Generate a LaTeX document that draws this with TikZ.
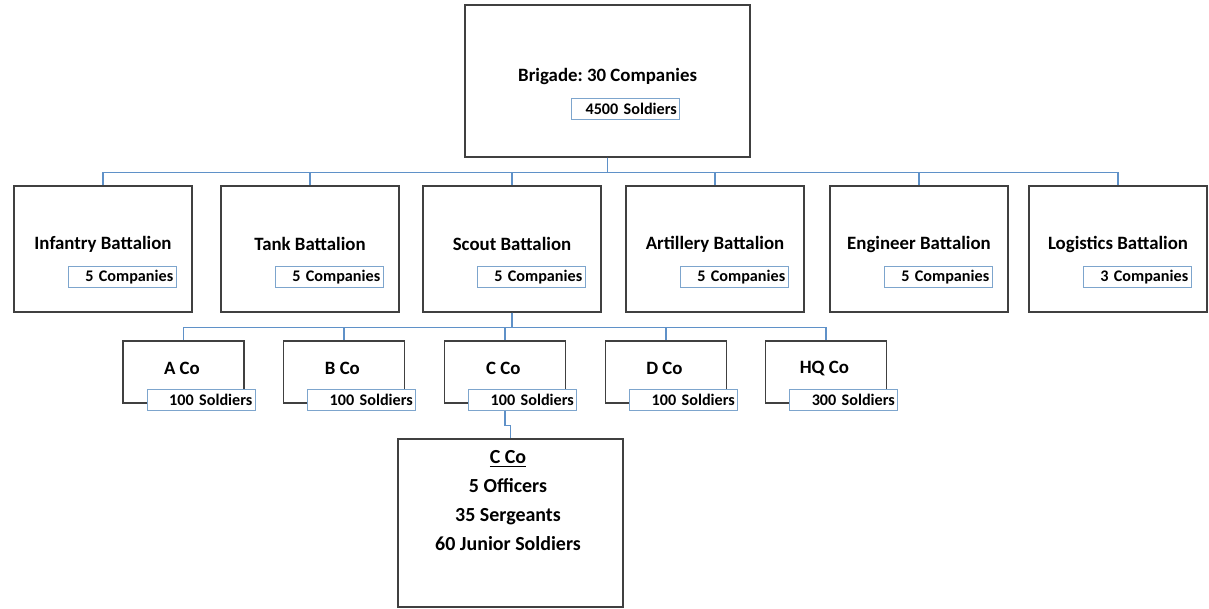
\documentclass[tikz,border=0pt]{standalone}
\usepackage{fontspec}
\setmainfont{Carlito}
\frenchspacing
\usetikzlibrary{positioning,calc}
\definecolor{boxline}{RGB}{64,64,64}
\definecolor{linkblue}{RGB}{95,145,200}
\definecolor{subline}{RGB}{125,165,205}
\tikzset{
  unitbox/.style={draw=boxline, line width=.9pt, fill=white, inner sep=0pt},
  brigbox/.style={unitbox, minimum width=7.125cm, minimum height=3.8cm},
  batbox/.style={unitbox, minimum width=4.45cm, minimum height=3.15cm},
  cobox/.style={unitbox, minimum width=3.025cm, minimum height=1.55cm},
  detbox/.style={unitbox, minimum width=5.625cm, minimum height=4.2cm},
  subbox/.style={draw=subline, line width=.7pt, fill=white, text width=2.56cm, align=right,
    inner xsep=.07cm, inner ysep=0pt, minimum height=.525cm, font=\fontsize{11.5}{13}\selectfont\bfseries},
  title/.style={font=\fontsize{13.4}{15}\selectfont\bfseries, inner sep=0pt},
  link/.style={draw=linkblue, line width=.8pt}
}
\begin{document}
\begin{tikzpicture}
\useasboundingbox (0,0) rectangle (30.225,-15.2);
% Brigade
\node[brigbox] (brig) at (15.19,-2.025) {};
\node[title] (brig-t) at ($(brig.center)+(0,.125)$) {Brigade: 30 Companies};
\node[subbox] (brig-s) at ($(brig.center)+(.45,-.69)$) {4500 Soldiers};
% Battalions
\foreach \nm/\x/\btxt/\cnt in {inf/2.575/Infantry/5, tank/7.75/Tank/5, scout/12.8/Scout/5,
    art/17.875/Artillery/5, eng/22.975/Engineer/5, log/27.95/Logistics/3}{
  \draw[link] (brig.south) -- ++(0,-.375) -| (\x,-4.65);
  \node[batbox] (\nm) at (\x,-6.225) {};
  \node[title] (\nm-t) at ($(\nm.center)+(0,.125)$) {\btxt{} Battalion};
  \node[subbox] (\nm-s) at ($(\nm.center)+(.475,-.71)$) {\cnt{} Companies};
}
% Companies
\foreach \nm/\x/\lbl/\men in {a/4.5875/A/100, b/8.6/B/100, c/12.625/C/100, d/16.65/D/100, hq/20.65/HQ/300}{
  \draw[link] (scout.south) -- ++(0,-.375) -| (\x,-8.525);
  \node[cobox] (\nm) at (\x,-9.3) {};
  \node[title] (\nm-t) at ($(\nm.center)+(-.04,.1)$) {\lbl{} Co};
  \node[subbox] (\nm-s) at ($(\nm.center)+(.44,-.69)$) {\men{} Soldiers};
}
% C Co detail
\node[detbox] (cdet) at (12.76,-13.075) {};
\node[title, anchor=north, align=center, font=\fontsize{14.2}{20.5}\selectfont\bfseries] (cdet-t)
  at ($(cdet.north)+(-.06,-.3)$) {\underline{C Co}\\5 Officers\\35 Sergeants\\60 Junior Soldiers};
\draw[link] (c |- c-s.south) -- ++(0,-.375) -| (cdet.north);
\end{tikzpicture}
\end{document}
